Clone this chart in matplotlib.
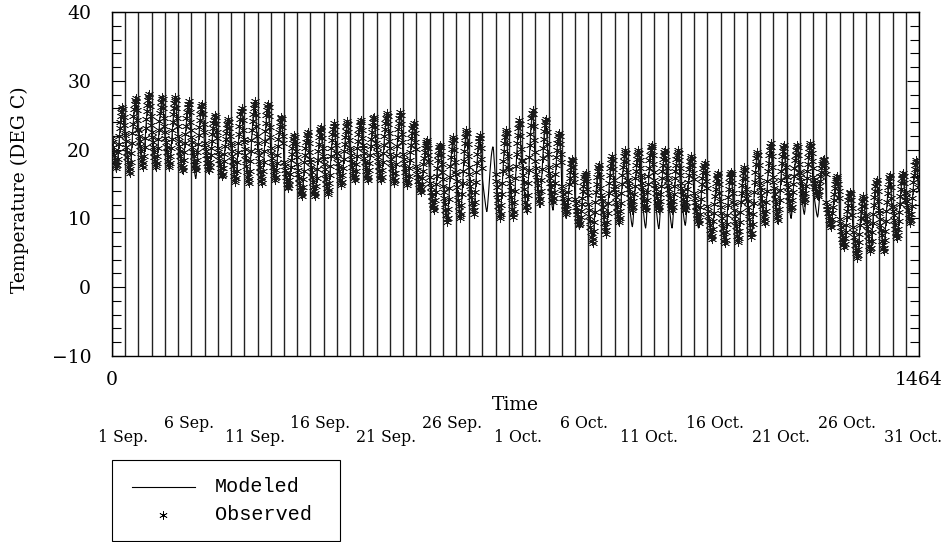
import matplotlib
matplotlib.use("Agg")
import matplotlib.pyplot as plt
from matplotlib.lines import Line2D
from matplotlib.patches import Rectangle
import numpy as np

# daily extremes (1 Sep .. 31 Oct, 61 days)
obs_max = [26.2, 27.5, 28.1, 27.7, 27.6, 27.0, 26.7, 25.0, 24.4, 26.0,
           27.0, 26.7, 24.8, 22.1, 22.5, 23.3, 23.8, 24.1, 24.3, 24.8,
           25.3, 25.4, 23.8, 21.4, 20.7, 21.9, 22.9, 22.1, 20.4, 22.9,
           24.3, 25.8, 24.5, 22.4, 18.7, 16.6, 17.8, 19.0, 19.9, 19.9,
           20.7, 19.9, 19.9, 19.0, 18.0, 16.6, 16.8, 17.5, 19.7, 20.9,
           20.7, 20.7, 20.9, 18.7, 16.1, 13.9, 13.2, 15.6, 16.3, 16.6, 18.5]
obs_min = [17.3, 16.6, 17.5, 17.5, 17.5, 17.0, 17.0, 17.0, 16.1, 15.3,
           15.1, 15.1, 15.6, 14.4, 13.2, 13.2, 13.6, 14.9, 15.6, 15.6,
           15.6, 15.1, 14.9, 13.9, 11.2, 9.5, 10.0, 10.7, 11.0, 10.0,
           10.2, 11.2, 12.2, 12.4, 10.7, 9.0, 6.4, 7.8, 9.5, 11.2,
           11.2, 11.2, 11.2, 11.2, 9.3, 7.0, 6.4, 6.6, 7.3, 9.3,
           9.8, 11.2, 12.4, 13.2, 8.8, 5.9, 4.2, 5.2, 5.2, 7.1, 9.3]
mod_max = [25.5, 27.0, 27.5, 27.2, 27.0, 26.5, 26.0, 24.5, 24.0, 25.5,
           26.5, 26.2, 24.3, 21.8, 22.0, 22.8, 23.3, 23.6, 23.8, 24.3,
           24.8, 25.0, 23.3, 21.0, 20.3, 21.5, 22.4, 21.7, 20.4, 22.4,
           23.8, 25.3, 24.0, 22.0, 18.3, 16.3, 17.4, 18.6, 19.5, 19.5,
           20.2, 19.5, 19.5, 18.6, 17.6, 16.3, 16.4, 17.1, 19.3, 20.4,
           20.3, 20.3, 20.5, 18.3, 15.8, 13.6, 13.0, 15.2, 15.9, 16.2, 18.0]
mod_min = [16.8, 16.2, 17.2, 17.0, 17.0, 16.5, 15.8, 16.6, 15.8, 15.0,
           14.8, 14.8, 15.2, 14.0, 13.0, 13.0, 13.4, 14.6, 15.2, 15.2,
           15.2, 14.8, 14.5, 13.5, 11.0, 9.5, 10.0, 10.5, 11.0, 10.0,
           10.0, 10.8, 11.6, 11.2, 10.0, 8.5, 6.5, 7.6, 9.0, 8.8,
           8.6, 8.5, 8.6, 9.0, 8.6, 7.0, 6.4, 6.6, 7.2, 9.0,
           9.2, 10.0, 10.6, 10.2, 8.5, 6.0, 4.5, 5.4, 5.4, 7.0, 9.0]
# hourly shape of the daily cycle (0 = daily min, 1 = daily max)
diurnal = [0.50, 0.42, 0.35, 0.28, 0.21, 0.14, 0.08, 0.03, 0.00, 0.05, 0.15, 0.27,
           0.40, 0.53, 0.65, 0.76, 0.85, 0.92, 0.97, 1.00, 0.96, 0.84, 0.70, 0.58]
missing_obs_day = 28

date_labels = ["1 Sep.", "6 Sep.", "11 Sep.", "16 Sep.", "21 Sep.", "26 Sep.", "1 Oct.",
               "6 Oct.", "11 Oct.", "16 Oct.", "21 Oct.", "26 Oct.", "31 Oct."]


def hourly(lo, hi):
    lo = np.repeat(lo, 24)
    hi = np.repeat(hi, 24)
    p = np.tile(diurnal, len(lo) // 24)
    return lo + p * (hi - lo)


hours = np.arange(24 * len(obs_max))
modeled = hourly(mod_min, mod_max)
observed = hourly(obs_min, obs_max)
observed[missing_obs_day * 24:(missing_obs_day + 1) * 24] = np.nan

serif = "DejaVu Serif"
W, H = 945, 542
fig = plt.figure(figsize=(9.45, 5.42), dpi=100)
ax = fig.add_axes([112 / W, 1 - 356 / H, 807 / W, 344 / H])

for d in range(0, 1465, 24):
    ax.axvline(d, color="#222222", lw=1.0, zorder=1)

ax.plot(hours, modeled, color="black", lw=0.8, zorder=2)
ax.plot(hours, observed, ls="none", marker=(6, 2, 0), ms=6.5, mew=0.5,
        color="#1a1a1a", zorder=3)

ax.set_xlim(0, 1464)
ax.set_ylim(-10, 40)
ax.set_yticks(range(-10, 41, 10))
ax.set_yticks(range(-10, 41, 2), minor=True)
ax.tick_params(axis="y", which="both", direction="in", left=True, right=True,
               labelsize=13.5, pad=15, width=0.8)
ax.tick_params(axis="y", which="major", length=9)
ax.tick_params(axis="y", which="minor", length=6.5)
ax.set_xticks([0, 1464])
ax.tick_params(axis="x", length=0, labelsize=13.5, pad=11)
for lbl in ax.get_xticklabels() + ax.get_yticklabels():
    lbl.set_family(serif)
for s in ax.spines.values():
    s.set_linewidth(1.0)

fig.text(20 / W, 1 - 190 / H, "Temperature (DEG C)", family=serif, fontsize=13.5,
         rotation=90, ha="center", va="center")
fig.text(515 / W, 1 - 405 / H, "Time", family=serif, fontsize=13.5,
         ha="center", va="center")

for i, lab in enumerate(date_labels):
    x = (123 + 65.8 * i) / W
    y = 1 - (438 if i % 2 == 0 else 424) / H
    fig.text(x, y, lab, family=serif, fontsize=11.3, ha="center", va="center")

# legend box
fig.patches.append(Rectangle((112 / W, 1 - 541 / H), 228 / W, 81 / H,
                             transform=fig.transFigure, fill=False,
                             edgecolor="black", lw=0.8))
fig.lines.append(Line2D([132 / W, 195 / W], [1 - 487 / H] * 2,
                        transform=fig.transFigure, color="black", lw=0.8))
fig.lines.append(Line2D([163 / W], [1 - 515 / H], transform=fig.transFigure,
                        ls="none", marker=(6, 2, 0), ms=6, mew=0.5, color="black"))
fig.text(215 / W, 1 - 487 / H, "Modeled", family="Liberation Mono",
         fontsize=14.5, va="center")
fig.text(215 / W, 1 - 515 / H, "Observed", family="Liberation Mono",
         fontsize=14.5, va="center")

fig.savefig("out.png", dpi=100)
